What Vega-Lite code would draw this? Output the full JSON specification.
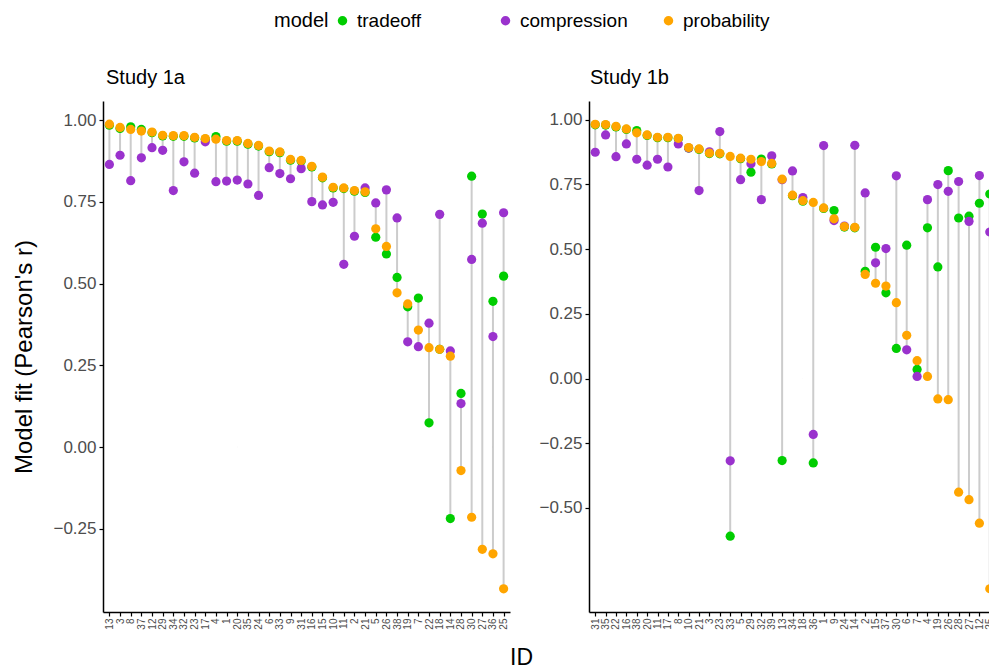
{
  "$schema": "https://vega.github.io/schema/vega-lite/v6.json",
  "background": "white",
  "padding": {"left": 12, "top": 11, "right": 0, "bottom": 0},
  "datasets": {
    "s1a": [
      {"ID":"13","model":"tradeoff","r":0.985},{"ID":"13","model":"compression","r":0.865},{"ID":"13","model":"probability","r":0.988},
      {"ID":"3","model":"tradeoff","r":0.975},{"ID":"3","model":"compression","r":0.893},{"ID":"3","model":"probability","r":0.978},
      {"ID":"8","model":"tradeoff","r":0.980},{"ID":"8","model":"compression","r":0.815},{"ID":"8","model":"probability","r":0.972},
      {"ID":"37","model":"tradeoff","r":0.972},{"ID":"37","model":"compression","r":0.885},{"ID":"37","model":"probability","r":0.967},
      {"ID":"12","model":"tradeoff","r":0.962},{"ID":"12","model":"compression","r":0.916},{"ID":"12","model":"probability","r":0.964},
      {"ID":"29","model":"tradeoff","r":0.952},{"ID":"29","model":"compression","r":0.908},{"ID":"29","model":"probability","r":0.954},
      {"ID":"34","model":"tradeoff","r":0.951},{"ID":"34","model":"compression","r":0.785},{"ID":"34","model":"probability","r":0.953},
      {"ID":"32","model":"tradeoff","r":0.951},{"ID":"32","model":"compression","r":0.873},{"ID":"32","model":"probability","r":0.953},
      {"ID":"23","model":"tradeoff","r":0.946},{"ID":"23","model":"compression","r":0.838},{"ID":"23","model":"probability","r":0.948},
      {"ID":"17","model":"tradeoff","r":0.942},{"ID":"17","model":"compression","r":0.934},{"ID":"17","model":"probability","r":0.944},
      {"ID":"4","model":"tradeoff","r":0.950},{"ID":"4","model":"compression","r":0.812},{"ID":"4","model":"probability","r":0.942},
      {"ID":"1","model":"tradeoff","r":0.936},{"ID":"1","model":"compression","r":0.814},{"ID":"1","model":"probability","r":0.938},
      {"ID":"20","model":"tradeoff","r":0.936},{"ID":"20","model":"compression","r":0.817},{"ID":"20","model":"probability","r":0.938},
      {"ID":"35","model":"tradeoff","r":0.927},{"ID":"35","model":"compression","r":0.805},{"ID":"35","model":"probability","r":0.929},
      {"ID":"24","model":"tradeoff","r":0.921},{"ID":"24","model":"compression","r":0.770},{"ID":"24","model":"probability","r":0.923},
      {"ID":"6","model":"tradeoff","r":0.904},{"ID":"6","model":"compression","r":0.855},{"ID":"6","model":"probability","r":0.906},
      {"ID":"33","model":"tradeoff","r":0.901},{"ID":"33","model":"compression","r":0.837},{"ID":"33","model":"probability","r":0.903},
      {"ID":"9","model":"tradeoff","r":0.878},{"ID":"9","model":"compression","r":0.821},{"ID":"9","model":"probability","r":0.880},
      {"ID":"31","model":"tradeoff","r":0.875},{"ID":"31","model":"compression","r":0.852},{"ID":"31","model":"probability","r":0.877},
      {"ID":"16","model":"tradeoff","r":0.857},{"ID":"16","model":"compression","r":0.751},{"ID":"16","model":"probability","r":0.859},
      {"ID":"15","model":"tradeoff","r":0.824},{"ID":"15","model":"compression","r":0.741},{"ID":"15","model":"probability","r":0.826},
      {"ID":"10","model":"tradeoff","r":0.793},{"ID":"10","model":"compression","r":0.749},{"ID":"10","model":"probability","r":0.795},
      {"ID":"11","model":"tradeoff","r":0.791},{"ID":"11","model":"compression","r":0.559},{"ID":"11","model":"probability","r":0.793},
      {"ID":"2","model":"tradeoff","r":0.783},{"ID":"2","model":"compression","r":0.645},{"ID":"2","model":"probability","r":0.785},
      {"ID":"21","model":"tradeoff","r":0.779},{"ID":"21","model":"compression","r":0.793},{"ID":"21","model":"probability","r":0.781},
      {"ID":"5","model":"tradeoff","r":0.642},{"ID":"5","model":"compression","r":0.747},{"ID":"5","model":"probability","r":0.668},
      {"ID":"26","model":"tradeoff","r":0.591},{"ID":"26","model":"compression","r":0.787},{"ID":"26","model":"probability","r":0.614},
      {"ID":"38","model":"tradeoff","r":0.519},{"ID":"38","model":"compression","r":0.701},{"ID":"38","model":"probability","r":0.472},
      {"ID":"19","model":"tradeoff","r":0.429},{"ID":"19","model":"compression","r":0.322},{"ID":"19","model":"probability","r":0.438},
      {"ID":"7","model":"tradeoff","r":0.456},{"ID":"7","model":"compression","r":0.307},{"ID":"7","model":"probability","r":0.358},
      {"ID":"22","model":"tradeoff","r":0.074},{"ID":"22","model":"compression","r":0.379},{"ID":"22","model":"probability","r":0.304},
      {"ID":"18","model":"tradeoff","r":0.299},{"ID":"18","model":"compression","r":0.712},{"ID":"18","model":"probability","r":0.299},
      {"ID":"14","model":"tradeoff","r":-0.219},{"ID":"14","model":"compression","r":0.294},{"ID":"14","model":"probability","r":0.278},
      {"ID":"28","model":"tradeoff","r":0.164},{"ID":"28","model":"compression","r":0.133},{"ID":"28","model":"probability","r":-0.072},
      {"ID":"30","model":"tradeoff","r":0.829},{"ID":"30","model":"compression","r":0.574},{"ID":"30","model":"probability","r":-0.215},
      {"ID":"27","model":"tradeoff","r":0.713},{"ID":"27","model":"compression","r":0.685},{"ID":"27","model":"probability","r":-0.313},
      {"ID":"36","model":"tradeoff","r":0.446},{"ID":"36","model":"compression","r":0.338},{"ID":"36","model":"probability","r":-0.327},
      {"ID":"25","model":"tradeoff","r":0.523},{"ID":"25","model":"compression","r":0.717},{"ID":"25","model":"probability","r":-0.434}
    ],
    "s1b": [
      {"ID":"31","model":"tradeoff","r":0.980},{"ID":"31","model":"compression","r":0.874},{"ID":"31","model":"probability","r":0.982},
      {"ID":"35","model":"tradeoff","r":0.979},{"ID":"35","model":"compression","r":0.941},{"ID":"35","model":"probability","r":0.981},
      {"ID":"22","model":"tradeoff","r":0.972},{"ID":"22","model":"compression","r":0.857},{"ID":"22","model":"probability","r":0.974},
      {"ID":"16","model":"tradeoff","r":0.962},{"ID":"16","model":"compression","r":0.906},{"ID":"16","model":"probability","r":0.964},
      {"ID":"38","model":"tradeoff","r":0.958},{"ID":"38","model":"compression","r":0.847},{"ID":"38","model":"probability","r":0.949},
      {"ID":"20","model":"tradeoff","r":0.939},{"ID":"20","model":"compression","r":0.824},{"ID":"20","model":"probability","r":0.941},
      {"ID":"11","model":"tradeoff","r":0.930},{"ID":"11","model":"compression","r":0.847},{"ID":"11","model":"probability","r":0.932},
      {"ID":"17","model":"tradeoff","r":0.930},{"ID":"17","model":"compression","r":0.817},{"ID":"17","model":"probability","r":0.932},
      {"ID":"8","model":"tradeoff","r":0.926},{"ID":"8","model":"compression","r":0.906},{"ID":"8","model":"probability","r":0.928},
      {"ID":"10","model":"tradeoff","r":0.890},{"ID":"10","model":"compression","r":0.890},{"ID":"10","model":"probability","r":0.892},
      {"ID":"21","model":"tradeoff","r":0.885},{"ID":"21","model":"compression","r":0.726},{"ID":"21","model":"probability","r":0.887},
      {"ID":"3","model":"tradeoff","r":0.869},{"ID":"3","model":"compression","r":0.876},{"ID":"3","model":"probability","r":0.871},
      {"ID":"23","model":"tradeoff","r":0.868},{"ID":"23","model":"compression","r":0.954},{"ID":"23","model":"probability","r":0.870},
      {"ID":"33","model":"tradeoff","r":-0.609},{"ID":"33","model":"compression","r":-0.318},{"ID":"33","model":"probability","r":0.858},
      {"ID":"5","model":"tradeoff","r":0.849},{"ID":"5","model":"compression","r":0.768},{"ID":"5","model":"probability","r":0.851},
      {"ID":"29","model":"tradeoff","r":0.797},{"ID":"29","model":"compression","r":0.830},{"ID":"29","model":"probability","r":0.847},
      {"ID":"32","model":"tradeoff","r":0.848},{"ID":"32","model":"compression","r":0.691},{"ID":"32","model":"probability","r":0.838},
      {"ID":"39","model":"tradeoff","r":0.829},{"ID":"39","model":"compression","r":0.860},{"ID":"39","model":"probability","r":0.831},
      {"ID":"13","model":"tradeoff","r":-0.317},{"ID":"13","model":"compression","r":0.768},{"ID":"13","model":"probability","r":0.770},
      {"ID":"34","model":"tradeoff","r":0.706},{"ID":"34","model":"compression","r":0.802},{"ID":"34","model":"probability","r":0.708},
      {"ID":"18","model":"tradeoff","r":0.685},{"ID":"18","model":"compression","r":0.699},{"ID":"18","model":"probability","r":0.687},
      {"ID":"36","model":"tradeoff","r":-0.326},{"ID":"36","model":"compression","r":-0.216},{"ID":"36","model":"probability","r":0.680},
      {"ID":"1","model":"tradeoff","r":0.657},{"ID":"1","model":"compression","r":0.900},{"ID":"1","model":"probability","r":0.659},
      {"ID":"9","model":"tradeoff","r":0.649},{"ID":"9","model":"compression","r":0.610},{"ID":"9","model":"probability","r":0.617},
      {"ID":"24","model":"tradeoff","r":0.585},{"ID":"24","model":"compression","r":0.589},{"ID":"24","model":"probability","r":0.587},
      {"ID":"14","model":"tradeoff","r":0.582},{"ID":"14","model":"compression","r":0.901},{"ID":"14","model":"probability","r":0.584},
      {"ID":"2","model":"tradeoff","r":0.414},{"ID":"2","model":"compression","r":0.717},{"ID":"2","model":"probability","r":0.402},
      {"ID":"15","model":"tradeoff","r":0.507},{"ID":"15","model":"compression","r":0.447},{"ID":"15","model":"probability","r":0.368},
      {"ID":"37","model":"tradeoff","r":0.331},{"ID":"37","model":"compression","r":0.502},{"ID":"37","model":"probability","r":0.357},
      {"ID":"30","model":"tradeoff","r":0.116},{"ID":"30","model":"compression","r":0.783},{"ID":"30","model":"probability","r":0.293},
      {"ID":"6","model":"tradeoff","r":0.515},{"ID":"6","model":"compression","r":0.111},{"ID":"6","model":"probability","r":0.167},
      {"ID":"7","model":"tradeoff","r":0.035},{"ID":"7","model":"compression","r":0.008},{"ID":"7","model":"probability","r":0.069},
      {"ID":"4","model":"tradeoff","r":0.582},{"ID":"4","model":"compression","r":0.691},{"ID":"4","model":"probability","r":0.008},
      {"ID":"19","model":"tradeoff","r":0.431},{"ID":"19","model":"compression","r":0.749},{"ID":"19","model":"probability","r":-0.079},
      {"ID":"26","model":"tradeoff","r":0.803},{"ID":"26","model":"compression","r":0.723},{"ID":"26","model":"probability","r":-0.082},
      {"ID":"28","model":"tradeoff","r":0.620},{"ID":"28","model":"compression","r":0.761},{"ID":"28","model":"probability","r":-0.439},
      {"ID":"27","model":"tradeoff","r":0.627},{"ID":"27","model":"compression","r":0.607},{"ID":"27","model":"probability","r":-0.468},
      {"ID":"12","model":"tradeoff","r":0.677},{"ID":"12","model":"compression","r":0.784},{"ID":"12","model":"probability","r":-0.559},
      {"ID":"25","model":"tradeoff","r":0.713},{"ID":"25","model":"compression","r":0.566},{"ID":"25","model":"probability","r":-0.812}
    ]
  },
  "title": {"text": "ID", "orient": "bottom", "anchor": "middle", "fontSize": 23, "fontWeight": "normal", "color": "black", "offset": 18, "dx": 17},
  "spacing": 28,
  "hconcat": [
    {
      "width": 407,
      "height": 511,
      "title": {"text": "Study 1a", "anchor": "start", "frame": "group", "fontSize": 20, "fontWeight": "normal", "color": "black", "offset": 13, "dx": 3},
      "data": {"name": "s1a"},
      "encoding": {
        "x": {"field": "ID", "type": "nominal",
          "scale": {"type": "point", "padding": 0.6, "domain": ["13","3","8","37","12","29","34","32","23","17","4","1","20","35","24","6","33","9","31","16","15","10","11","2","21","5","26","38","19","7","22","18","14","28","30","27","36","25"]},
          "axis": {"title": null, "labelAngle": 270, "labelFontSize": 10, "labelPadding": 2}}
      },
      "layer": [
        {"mark": {"type": "rule", "color": "#CCCCCC", "strokeWidth": 2},
         "encoding": {
           "y": {"aggregate": "min", "field": "r", "type": "quantitative",
             "scale": {"domain": [-0.505, 1.059], "nice": false, "zero": false},
             "axis": {"title": "Model fit (Pearson's r)", "values": [-0.25, 0, 0.25, 0.5, 0.75, 1], "format": ".2f", "titleFontSize": 24, "titlePadding": 16, "labelFontSize": 17, "labelPadding": 3}},
           "y2": {"aggregate": "max", "field": "r"}}},
        {"mark": {"type": "rule", "color": "black", "strokeWidth": 2, "strokeDash": [9, 7]},
         "encoding": {"y": {"datum": 0}}},
        {"mark": {"type": "circle", "size": 85, "opacity": 1},
         "encoding": {
           "y": {"field": "r", "type": "quantitative"},
           "color": {"field": "model", "type": "nominal",
             "scale": {"domain": ["tradeoff", "compression", "probability"], "range": ["#00CD00", "#9A32CD", "#FFA500"]},
             "legend": {"title": "model", "orient": "none", "direction": "horizontal", "titleOrient": "left", "legendX": 171, "legendY": -90, "columns": 3, "gridAlign": "all", "columnPadding": 31, "symbolType": "circle", "symbolSize": 90, "labelFontSize": 19, "titleFontSize": 20, "titleFontWeight": "normal", "titlePadding": 4, "labelOffset": 5, "labelColor": "black", "titleColor": "black"}}}}
      ]
    },
    {
      "width": 407,
      "height": 511,
      "title": {"text": "Study 1b", "anchor": "start", "frame": "group", "fontSize": 20, "fontWeight": "normal", "color": "black", "offset": 13, "dx": 1},
      "data": {"name": "s1b"},
      "encoding": {
        "x": {"field": "ID", "type": "nominal",
          "scale": {"type": "point", "padding": 0.6, "domain": ["31","35","22","16","38","20","11","17","8","10","21","3","23","33","5","29","32","39","13","34","18","36","1","9","24","14","2","15","37","30","6","7","4","19","26","28","27","12","25"]},
          "axis": {"title": null, "labelAngle": 270, "labelFontSize": 10, "labelPadding": 2}}
      },
      "layer": [
        {"mark": {"type": "rule", "color": "#CCCCCC", "strokeWidth": 2},
         "encoding": {
           "y": {"aggregate": "min", "field": "r", "type": "quantitative",
             "scale": {"domain": [-0.902, 1.072], "nice": false, "zero": false},
             "axis": {"title": null, "values": [-0.5, -0.25, 0, 0.25, 0.5, 0.75, 1], "format": ".2f", "labelFontSize": 17, "labelPadding": 3}},
           "y2": {"aggregate": "max", "field": "r"}}},
        {"mark": {"type": "rule", "color": "black", "strokeWidth": 2, "strokeDash": [9, 7]},
         "encoding": {"y": {"datum": 0}}},
        {"mark": {"type": "circle", "size": 85, "opacity": 1},
         "encoding": {
           "y": {"field": "r", "type": "quantitative"},
           "color": {"field": "model", "type": "nominal",
             "scale": {"domain": ["tradeoff", "compression", "probability"], "range": ["#00CD00", "#9A32CD", "#FFA500"]},
             "legend": {"title": "model", "orient": "none", "direction": "horizontal", "titleOrient": "left", "legendX": 171, "legendY": -90, "columns": 3, "gridAlign": "all", "columnPadding": 31, "symbolType": "circle", "symbolSize": 90, "labelFontSize": 19, "titleFontSize": 20, "titleFontWeight": "normal", "titlePadding": 4, "labelOffset": 5, "labelColor": "black", "titleColor": "black"}}}}
      ]
    }
  ],
  "resolve": {"scale": {"color": "shared", "x": "independent", "y": "independent"}},
  "config": {
    "font": "Liberation Sans",
    "view": {"stroke": null},
    "axis": {"grid": false, "domainColor": "black", "domainWidth": 1.5, "tickColor": "black", "tickWidth": 1.2, "tickSize": 4, "labelColor": "#4D4D4D", "titleFontWeight": "normal", "titleColor": "black", "labelFont": "Liberation Sans", "titleFont": "Liberation Sans"}
  }
}
